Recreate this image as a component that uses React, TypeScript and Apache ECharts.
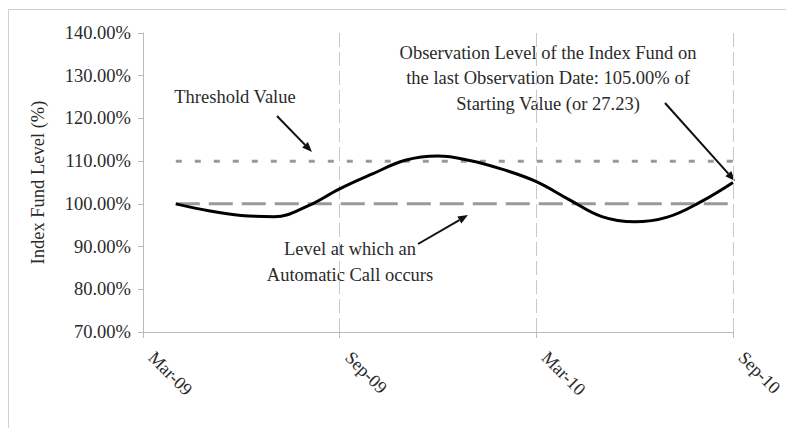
import React, { useEffect, useRef } from "react";
import * as echarts from "echarts";

const months = [
  "Mar-09", "Apr-09", "May-09", "Jun-09", "Jul-09", "Aug-09", "Sep-09",
  "Oct-09", "Nov-09", "Dec-09", "Jan-10", "Feb-10", "Mar-10",
  "Apr-10", "May-10", "Jun-10", "Jul-10", "Aug-10", "Sep-10",
];
const fundLevel: (number | null)[] = [
  null, 100, 98.4, 97.3, 97.0, 99.4, 103.5,
  107.0, 110.2, 111.2, 110.1, 108.0, 105.2,
  101.0, 97.0, 95.8, 96.9, 100.4, 105.0,
];
const thresholdLevel: (number | null)[] = months.map((_, i) => (i === 0 ? null : 110));
const callLevel: (number | null)[] = months.map((_, i) => (i === 0 ? null : 100));

const yMin = 70;
const yMax = 140;
const yStep = 10;

const FONT = "'Liberation Serif', 'Times New Roman', serif";
const TXT = "#2a2a2a";
const FS = 18.5;

function arrow(x1: number, y1: number, x2: number, y2: number) {
  const dx = x2 - x1, dy = y2 - y1;
  const len = Math.sqrt(dx * dx + dy * dy);
  const ux = dx / len, uy = dy / len;
  const hl = 10, hw = 4;
  const bx = x2 - ux * hl, by = y2 - uy * hl;
  return [
    {
      type: "line",
      shape: { x1, y1, x2: bx, y2: by },
      style: { stroke: "#111", lineWidth: 2 },
    },
    {
      type: "polygon",
      shape: {
        points: [
          [x2, y2],
          [bx - uy * hw, by + ux * hw],
          [bx + uy * hw, by - ux * hw],
        ],
      },
      style: { fill: "#111" },
    },
  ];
}

function txt(x: number, y: number, text: string) {
  return {
    type: "text",
    x,
    y,
    style: {
      text,
      font: `${FS}px ${FONT}`,
      fill: TXT,
      align: "center",
      verticalAlign: "middle",
      lineHeight: 25.5,
    },
  };
}

export default function App() {
  const ref = useRef<HTMLDivElement>(null);
  useEffect(() => {
    document.body.style.margin = "0";
    const chart = echarts.init(ref.current!, null, { renderer: "svg" });
    chart.setOption({
      animation: false,
      backgroundColor: "#fff",
      grid: { left: 143, right: 52, top: 33, bottom: 96, containLabel: false },
      xAxis: {
        type: "category",
        data: months,
        boundaryGap: false,
        axisLine: { lineStyle: { color: "#bbb", width: 1 } },
        axisTick: { show: true, interval: 5, length: 6, lineStyle: { color: "#bbb" } },
        axisLabel: {
          interval: 5,
          rotate: -45,
          margin: 14,
          padding: [0, 0, 0, 12],
          fontFamily: FONT,
          fontSize: 18,
          color: TXT,
        },
        splitLine: {
          show: true,
          interval: 5,
          lineStyle: { color: "#c8c8c8", width: 1, type: [14, 5] },
        },
      },
      yAxis: {
        type: "value",
        min: yMin,
        max: yMax,
        interval: yStep,
        name: "Index Fund Level (%)",
        nameLocation: "middle",
        nameGap: 96,
        nameTextStyle: { fontFamily: FONT, fontSize: FS, color: TXT },
        axisLine: { show: true, lineStyle: { color: "#bbb", width: 1 } },
        axisTick: { show: true, length: 5, lineStyle: { color: "#bbb" } },
        axisLabel: {
          margin: 12,
          fontFamily: FONT,
          fontSize: FS,
          color: TXT,
          formatter: (v: number) => v.toFixed(2) + "%",
        },
        splitLine: { show: false },
      },
      series: [
        {
          type: "line",
          data: thresholdLevel,
          symbol: "none",
          lineStyle: { color: "#999", width: 3, type: [6, 13] },
          z: 2,
        },
        {
          type: "line",
          data: callLevel,
          symbol: "none",
          lineStyle: { color: "#999", width: 3, type: [24, 9] },
          z: 2,
        },
        {
          type: "line",
          data: fundLevel,
          symbol: "none",
          smooth: 0.4,
          lineStyle: { color: "#000", width: 3 },
          z: 3,
        },
      ],
      graphic: [
        {
          type: "rect",
          shape: { x: 8.5, y: 9.5, width: 900, height: 500 },
          style: { fill: "none", stroke: "#cfcfcf", lineWidth: 1 },
          silent: true,
        },
        txt(235, 97, "Threshold Value"),
        ...arrow(277, 116, 312, 152),
        txt(548, 78, "Observation Level of the Index Fund on\nthe last Observation Date: 105.00% of\nStarting Value (or 27.23)"),
        ...arrow(665, 103, 735, 181),
        txt(350, 262, "Level at which an\nAutomatic Call occurs"),
        ...arrow(418, 244, 468, 215),
      ],
    });
    return () => chart.dispose();
  }, []);
  return <div ref={ref} style={{ width: 786, height: 428 }} />;
}
